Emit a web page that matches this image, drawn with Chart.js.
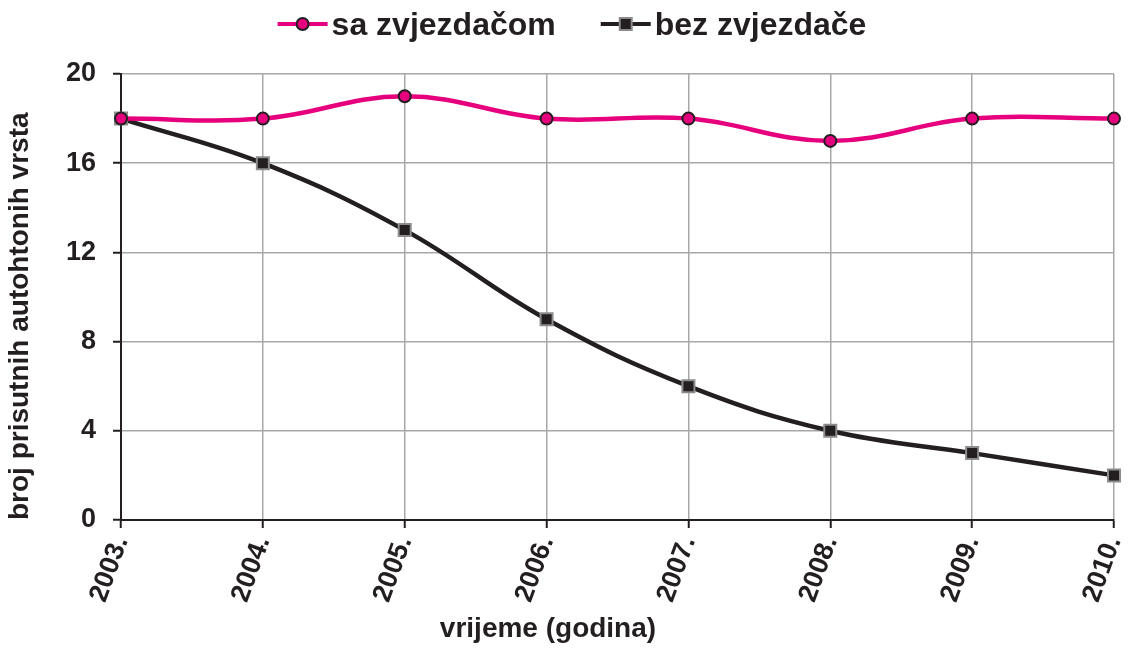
<!DOCTYPE html>
<html><head><meta charset="utf-8">
<script src="https://cdn.jsdelivr.net/npm/chart.js@4.4.1/dist/chart.umd.min.js"></script>
<style>html,body{margin:0;padding:0;background:#fff;}#wrap{width:1134px;height:657px;position:relative;}</style>
</head><body><div id="wrap"><canvas id="c"></canvas></div>
<script>
const years = ['2003.', '2004.', '2005.', '2006.', '2007.', '2008.', '2009.', '2010.'];
const saZvjezdacom = [18, 18, 19, 18, 18, 17, 18, 18];
const bezZvjezdace = [18, 16, 13, 9, 6, 4, 3, 2];
const seriesNames = ['sa zvjezdačom', 'bez zvjezdače'];
const yMin = 0, yMax = 20, yStep = 4;
const xTitle = 'vrijeme (godina)';
const yTitle = 'broj prisutnih autohtonih vrsta';

const FONT = '"Liberation Sans", Arial, sans-serif';
const INK = '#231F20';
const PINK = '#E6007E';
const GRID = '#A8A8A8';

function drawMarker(ctx, style, x, y, r, fill, stroke, bw) {
  ctx.save();
  ctx.fillStyle = fill; ctx.strokeStyle = stroke; ctx.lineWidth = bw;
  ctx.beginPath();
  if (style === 'circle') ctx.arc(x, y, r, 0, Math.PI * 2);
  else { const s = r * Math.SQRT1_2; ctx.rect(x - s, y - s, 2 * s, 2 * s); }
  ctx.fill(); ctx.stroke();
  ctx.restore();
}

const legendAndTitle = {
  id: 'legendAndTitle',
  afterDraw(chart) {
    const ctx = chart.ctx;
    ctx.save();
    ctx.font = 'bold 32px ' + FONT;
    const lineLen = 50, gapTxt = 4, gapItem = 45;
    const items = chart.data.datasets.map(ds => ({ds, w: ctx.measureText(ds.label).width}));
    let total = items.reduce((a, it) => a + lineLen + gapTxt + it.w, 0) + gapItem * (items.length - 1);
    let x = chart.width / 2 + 5 - total / 2;
    const y = 24;
    items.forEach(it => {
      const ds = it.ds;
      ctx.strokeStyle = ds.borderColor; ctx.lineWidth = 4;
      ctx.beginPath(); ctx.moveTo(x, y); ctx.lineTo(x + lineLen, y); ctx.stroke();
      drawMarker(ctx, ds.pointStyle, x + lineLen / 2, y, ds.pointRadius, ds.pointBackgroundColor, ds.pointBorderColor, ds.pointBorderWidth);
      ctx.fillStyle = INK; ctx.textAlign = 'left'; ctx.textBaseline = 'middle';
      ctx.fillText(ds.label, x + lineLen + gapTxt, y + 2);
      x += lineLen + gapTxt + it.w + gapItem;
    });
    // x axis title
    const ca = chart.chartArea;
    ctx.font = 'bold 28px ' + FONT;
    ctx.textAlign = 'center'; ctx.textBaseline = 'alphabetic';
    ctx.fillText(xTitle, ca.left + (ca.right - ca.left) * 0.43, 637);
    ctx.restore();
  }
};

new Chart(document.getElementById('c'), {
  type: 'line',
  data: {
    labels: years,
    datasets: [
      {
        label: seriesNames[0], data: saZvjezdacom,
        borderColor: PINK, borderWidth: 4.5, tension: 0.4,
        pointStyle: 'circle', pointRadius: 6, pointBackgroundColor: PINK,
        pointBorderColor: INK, pointBorderWidth: 2, pointHoverRadius: 6, clip: false
      },
      {
        label: seriesNames[1], data: bezZvjezdace,
        borderColor: INK, borderWidth: 4.5, tension: 0.4,
        pointStyle: 'rect', pointRadius: 8.5, pointBackgroundColor: INK,
        pointBorderColor: '#8C8C8C', pointBorderWidth: 2, pointHoverRadius: 8.5, clip: false
      }
    ]
  },
  options: {
    responsive: true, maintainAspectRatio: false, animation: false,
    devicePixelRatio: 1,
    layout: {padding: {top: 74, right: 20, left: 0, bottom: 0}},
    plugins: {legend: {display: false}, tooltip: {enabled: false}},
    scales: {
      x: {
        type: 'category', offset: false,
        afterFit(s) { s.height = 137; s.paddingLeft = 0; s.paddingRight = 0; },
        grid: {color: GRID, lineWidth: 1.5, tickLength: 8, tickColor: INK, tickWidth: 2},
        border: {color: INK, width: 2},
        ticks: {color: INK, font: {family: FONT, size: 27, weight: 'bold'}, minRotation: 70, maxRotation: 70, autoSkip: false, padding: 4}
      },
      y: {
        min: yMin, max: yMax,
        afterFit(s) { s.width = 121; s.paddingTop = 0; s.paddingBottom = 0; },
        grid: {color: GRID, lineWidth: 1.5, tickLength: 8, tickColor: INK, tickWidth: 2},
        border: {color: INK, width: 2},
        ticks: {stepSize: yStep, color: INK, font: {family: FONT, size: 27, weight: 'bold'}, padding: 17},
        title: {display: true, text: yTitle, align: 'start', color: INK, font: {family: FONT, size: 28, weight: 'bold'}, padding: {top: 3, bottom: 0}}
      }
    }
  },
  plugins: [legendAndTitle]
});
</script></body></html>
